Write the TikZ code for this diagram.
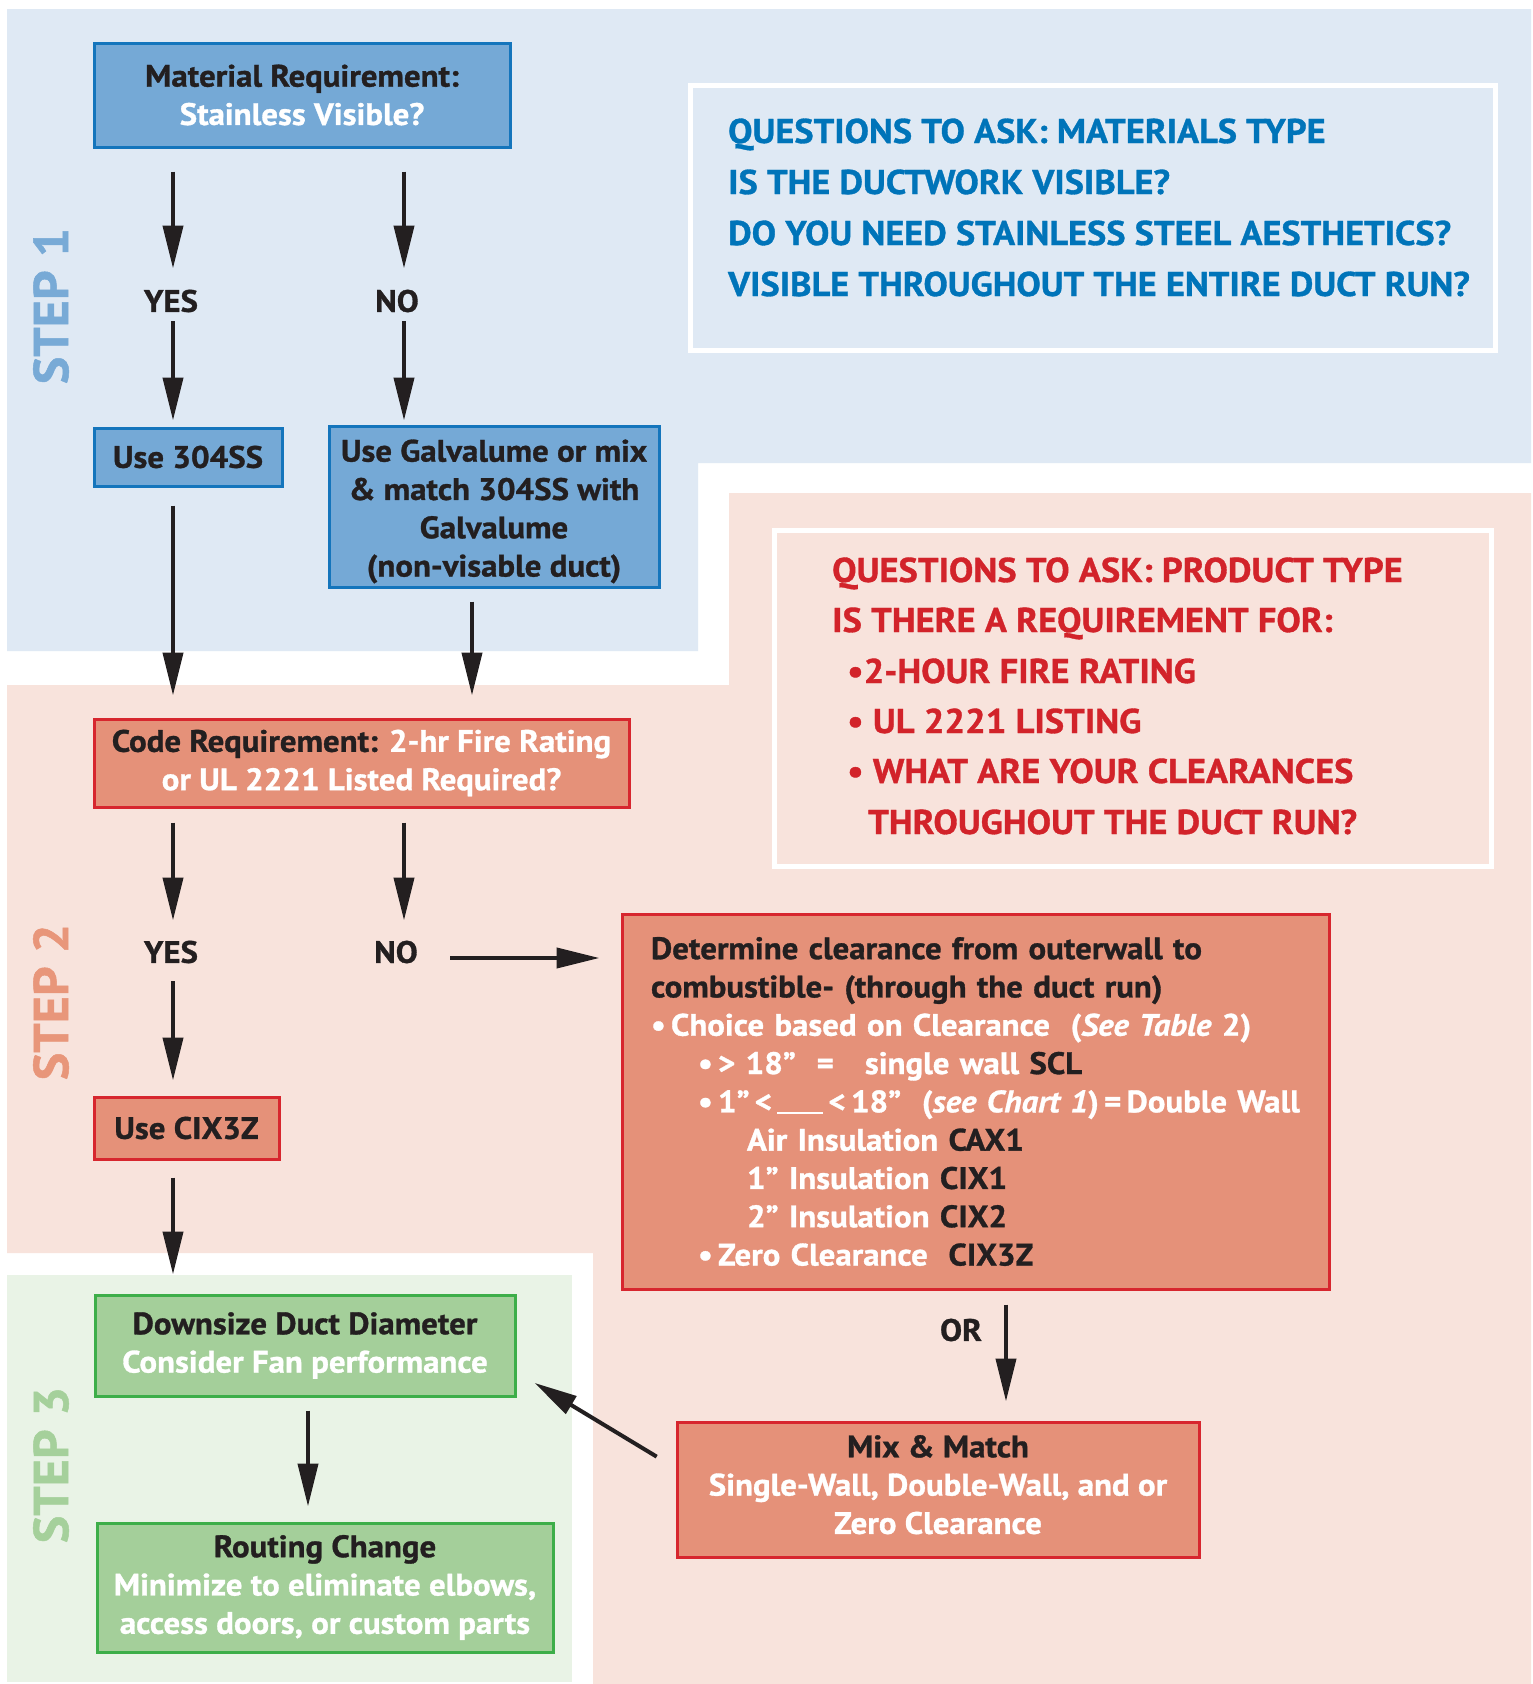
\documentclass[tikz,border=0pt]{standalone}
\usepackage{fontspec}
\setmainfont{PT Sans}[FakeStretch=1.06, BoldFeatures={FakeBold=1}, BoldItalicFeatures={FakeBold=1}]
\usetikzlibrary{arrows.meta}
\definecolor{bgblue}{RGB}{223,233,244}
\definecolor{bgpink}{RGB}{248,227,220}
\definecolor{bggreen}{RGB}{233,243,230}
\definecolor{bluefill}{RGB}{117,169,214}
\definecolor{blueline}{RGB}{20,117,188}
\definecolor{redfill}{RGB}{229,145,121}
\definecolor{redline}{RGB}{215,38,46}
\definecolor{greenfill}{RGB}{164,207,154}
\definecolor{greenline}{RGB}{61,174,73}
\definecolor{qblue}{RGB}{0,116,185}
\definecolor{qred}{RGB}{210,35,42}
\definecolor{dark}{RGB}{35,31,32}
\definecolor{stepA}{RGB}{120,170,214}
\definecolor{stepB}{RGB}{232,150,122}
\definecolor{stepC}{RGB}{165,208,155}
\newcommand\boxfont{\bfseries\fontsize{31}{38.3}\selectfont}
\newcommand\qfontA{\bfseries\fontsize{34.3}{51}\selectfont}
\newcommand\qfontB{\bfseries\fontsize{34.4}{50.4}\selectfont}
\newcommand\stepfont{\bfseries\fontsize{49}{55}\selectfont}
\tikzset{
  bx/.style={draw, line width=3pt, inner sep=0pt, align=center, text=dark, font=\boxfont},
  bluebx/.style={bx, draw=blueline, fill=bluefill},
  redbx/.style={bx, draw=redline, fill=redfill},
  greenbx/.style={bx, draw=greenline, fill=greenfill},
  qbox/.style={draw=white, line width=5pt, inner sep=0pt},
  qlineA/.style={anchor=base west, inner sep=0pt, text=qblue, font=\qfontA},
  qlineB/.style={anchor=base west, inner sep=0pt, text=qred, font=\qfontB},
  lbl/.style={inner sep=0pt, text=dark, font=\boxfont},
  steplbl/.style={inner sep=0pt, rotate=90, font=\stepfont},
  arr/.style={draw=dark, line width=4pt, -{Triangle[length=43pt,width=20pt]}},
}
\begin{document}
\begin{tikzpicture}[x=1pt,y=-1pt]
\useasboundingbox (0,0) rectangle (1533,1684);
\fill[white] (0,0) rectangle (1533,1684);
% backgrounds
\fill[bgblue] (7,9) -- (1531,9) -- (1531,463) -- (698,463) -- (698,651) -- (7,651) -- cycle;
\fill[bgpink] (7,685) -- (729,685) -- (729,493) -- (1531,493) -- (1531,1684) -- (593,1684) -- (593,1253) -- (7,1253) -- cycle;
\fill[bggreen] (7,1275) rectangle (572,1682);
% step labels
\node[steplbl, text=stepA] (s1) at (51,306) {STEP 1};
\node[steplbl, text=stepB] (s2) at (51,1002) {STEP 2};
\node[steplbl, text=stepC] (s3) at (51,1465) {STEP 3};
% question boxes
\node[qbox, minimum width=805pt, minimum height=265pt] (qa) at (1093,217.5) {};
\node[qlineA] (qa1) at (728,143) {QUESTIONS TO ASK: MATERIALS TYPE};
\node[qlineA] (qa2) at (728,194) {IS THE DUCTWORK VISIBLE?};
\node[qlineA] (qa3) at (728,245) {DO YOU NEED STAINLESS STEEL AESTHETICS?};
\node[qlineA] (qa4) at (728,296) {VISIBLE THROUGHOUT THE ENTIRE DUCT RUN?};
\node[qbox, minimum width=717pt, minimum height=336pt] (qb) at (1132.5,698.5) {};
\node[qlineB] (qb1) at (832,582) {QUESTIONS TO ASK: PRODUCT TYPE};
\node[qlineB] (qb2) at (832,632) {IS THERE A REQUIREMENT FOR:};
\node[qlineB] (qb3) at (847,683) {•2-HOUR FIRE RATING};
\node[qlineB] (qb4) at (847,733) {• UL 2221 LISTING};
\node[qlineB] (qb5) at (847,783) {• WHAT ARE YOUR CLEARANCES};
\node[qlineB] (qb6) at (868,834) {THROUGHOUT THE DUCT RUN?};
% column coordinates
\coordinate (c1) at (173,0);
\coordinate (c2) at (404,0);
\coordinate (c3) at (472,0);
\coordinate (c5) at (1006,0);
\coordinate (c6) at (308,0);
\coordinate (r1) at (0,958);
% boxes
\node[bluebx, minimum width=416pt, minimum height=104pt] (mat) at (302,95) {Material Requirement:\\\textcolor{white}{Stainless Visible?}};
\node[lbl] (yes1) at (171,301) {YES};
\node[lbl] (no1) at (397,301) {NO};
\node[bluebx, minimum width=188pt, minimum height=58pt] (u304) at (188,457) {Use 304SS};
\node[bluebx, minimum width=330pt, minimum height=161pt] (galv) at (494,506.5) {\rule{0pt}{32pt}Use Galvalume or mix\\\& match 304SS with\\Galvalume\\(non-visable duct)};
\node[redbx, minimum width=535pt, minimum height=88pt] (code) at (361.5,763) {Code Requirement: \textcolor{white}{2-hr Fire Rating}\\\textcolor{white}{or UL 2221 Listed Required?}};
\node[lbl] (yes2) at (171,952) {YES};
\node[lbl] (no2) at (396,952) {NO};
\node[redbx, minimum width=185pt, minimum height=62pt] (cix) at (186.5,1128) {Use CIX3Z};
\node[redbx, text width=649pt, inner xsep=29pt, minimum height=375pt, align=left] (det) at (975.5,1101.5) {Determine clearance from outerwall to\\
combustible- (through the duct run)\\
\textcolor{white}{•\,Choice based on Clearance\ \ (\textit{See Table} 2)}\\
\hspace*{47pt}\textcolor{white}{•\,>\ 18”\ \ =\ \ \ single wall} SCL\\
\hspace*{47pt}\textcolor{white}{•\,1”\,<\,\rule[-2pt]{46pt}{2pt}\,<\,18”\ \ (\textit{see Chart 1})\,=\,Double Wall}\\
\hspace*{96pt}\textcolor{white}{Air Insulation} CAX1\\
\hspace*{96pt}\textcolor{white}{1” Insulation} CIX1\\
\hspace*{96pt}\textcolor{white}{2” Insulation} CIX2\\
\hspace*{47pt}\textcolor{white}{•\,Zero Clearance}\ \ CIX3Z};
\node[lbl] (or) at (961,1330) {OR};
\node[redbx, minimum width=522pt, minimum height=135pt] (mix) at (938,1489.5) {Mix \& Match\\\textcolor{white}{Single-Wall, Double-Wall, and or}\\\textcolor{white}{Zero Clearance}\rule[-10pt]{0pt}{10pt}};
\node[greenbx, minimum width=420pt, minimum height=101pt] (down) at (305,1345.5) {Downsize Duct Diameter\\\textcolor{white}{Consider Fan performance}};
\node[greenbx, minimum width=456pt, minimum height=129pt] (rout) at (325,1587.5) {Routing Change\\\textcolor{white}{Minimize to eliminate elbows,}\\\textcolor{white}{access doors, or custom parts}};
% connectors
\draw[arr, shorten <=23pt, shorten >=21pt] (mat.south -| c1) -- (yes1.north -| c1);
\draw[arr, shorten <=9pt, shorten >=6pt] (yes1.south -| c1) -- (u304.north -| c1);
\draw[arr, shorten <=23pt, shorten >=21pt] (mat.south -| c2) -- (no1.north -| c2);
\draw[arr, shorten <=9pt, shorten >=4pt] (no1.south -| c2) -- (galv.north -| c2);
\draw[arr, shorten <=18pt, shorten >=22pt] (u304.south -| c1) -- (code.north -| c1);
\draw[arr, shorten <=13pt, shorten >=22pt] (galv.south -| c3) -- (code.north -| c3);
\draw[arr, shorten <=14pt, shorten >=20pt] (code.south -| c1) -- (yes2.north -| c1);
\draw[arr, shorten <=18pt, shorten >=15pt] (yes2.south -| c1) -- (cix.north -| c1);
\draw[arr, shorten <=14pt, shorten >=20pt] (code.south -| c2) -- (no2.north -| c2);
\draw[arr, shorten <=32pt, shorten >=21pt] (no2.east |- r1) -- (det.west |- r1);
\draw[arr, shorten <=17pt, shorten >=19pt] (cix.south -| c1) -- (down.north -| c1);
\draw[arr, shorten <=14pt, shorten >=19pt] (det.south -| c5) -- (mix.north -| c5);
\draw[arr, shorten <=22pt, shorten >=21pt] ([yshift=21.5pt]mix.west) -- ([yshift=-26.5pt]down.east);
\draw[arr, shorten <=13pt, shorten >=15pt] (down.south -| c6) -- (rout.north -| c6);
\end{tikzpicture}
\end{document}
